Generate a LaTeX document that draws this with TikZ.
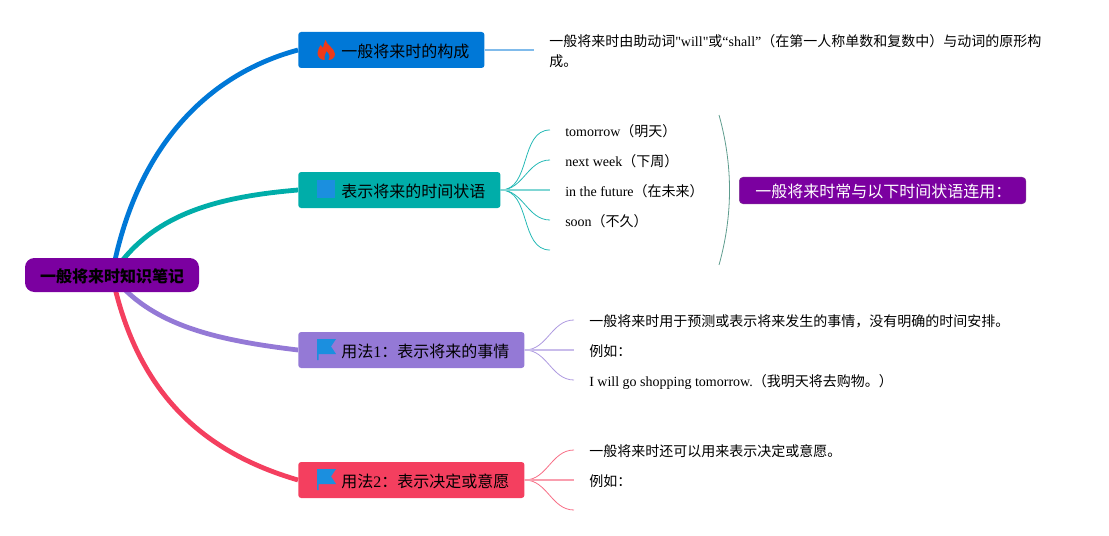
\documentclass[tikz,border=0pt]{standalone}
\usepackage{fontspec}
\setmainfont{Liberation Serif}
\newfontfamily\cjk{Noto Sans CJK SC}
\newfontfamily\plainrm{Liberation Serif}
\newcommand{\zh}[1]{{\cjk #1}}
\definecolor{rootpurple}{HTML}{7B00A0}
\definecolor{blueB}{HTML}{0078D7}
\definecolor{tealB}{HTML}{00ADA9}
\definecolor{violetB}{HTML}{9479D6}
\definecolor{redB}{HTML}{F43F5F}
\definecolor{iconblue}{HTML}{1B8FDF}
\definecolor{flamered}{HTML}{EE3A1A}
\definecolor{bracketgreen}{HTML}{5E9C8E}
\pgfdeclarelayer{back}
\pgfsetlayers{back,main}
\tikzset{
  branchbox/.style={fill=#1,rounded corners=2.2pt,anchor=west,minimum height=27pt,inner ysep=0pt,inner xsep=11.4pt,text height=12pt,text depth=1.2pt,font=\fontsize{12}{14}\selectfont},
  leaftext/.style={anchor=west,inner ysep=0pt,inner xsep=11.25pt,font=\fontsize{10.5}{15}\selectfont,align=left},
  leafline/.style={leaftext,text height=10.5pt,text depth=1pt},
  mainline/.style={line width=3.6pt,#1},
  twig/.style={line width=.6pt,#1},
  flagicon/.pic={\fill[iconblue] (0,0) -- (0,21) -- (1.5,21) -- (1.5,15) -- (19,15) -- (14,7.5) -- (19,0) -- cycle;},
  flameicon/.pic={\fill[flamered,even odd rule] (8,0) .. controls (9,5) and (17,8) .. (17.5,14) .. controls (17.5,18) and (14,20) .. (11,20) .. controls (13,17) and (12,14) .. (9,11) .. controls (8,14) and (6,17) .. (7,20) .. controls (3,20) and (0,17) .. (0,13) .. controls (0,10) and (2,8) .. (3,5) .. controls (4,6) and (5,7) .. (5.5,8) .. controls (6,5) and (7,2) .. (8,0) -- cycle;},
}
\begin{document}
\begin{tikzpicture}[x=.75pt,y=-.75pt]
\useasboundingbox (0,0) rectangle (1109,535);
\node[fill=rootpurple,rounded corners=7pt,minimum width=130.5pt,minimum height=25.5pt,inner sep=0pt,text depth=0pt,font=\fontsize{12}{14}\selectfont] (root) at (112,275) {\raisebox{-.75pt}{\zh{\bfseries 一般将来时知识笔记}}};
% branches
\node[branchbox=blueB] (constr) at (298,50) {\hspace*{20.85pt}\zh{一般将来时的构成}};
\node[branchbox=tealB] (adverb) at (298,190) {\hspace*{20.85pt}\zh{表示将来的时间状语}};
\node[branchbox=violetB] (usageA) at (298,350) {\hspace*{20.85pt}\zh{用法}1\zh{：表示将来的事情}};
\node[branchbox=redB] (usageB) at (298,480) {\hspace*{20.85pt}\zh{用法}2\zh{：表示决定或意愿}};
\pic at (317.5,40) {flameicon};
\fill[iconblue] (317,180) rectangle (335,198);
\pic at (317,339) {flagicon};
\pic at (317,469) {flagicon};
% leaves
\node[leaftext,yshift=-.75pt] (constrA) at (534,50) {\zh{一般将来时由助动词}{\plainrm "will"}\zh{或}“shall”\zh{（在第一人称单数和复数中）与动词的原形构}\\\zh{成。}};
\node[leafline] (advA) at (550,130) {tomorrow\zh{（明天）}};
\node[leafline] (advB) at (550,160) {next week\zh{（下周）}};
\node[leafline] (advC) at (550,190) {in the future\zh{（在未来）}};
\node[leafline] (advD) at (550,220) {soon\zh{（不久）}};
\coordinate (advE) at (550,250);
\node[leafline] (useA) at (574,320) {\zh{一般将来时用于预测或表示将来发生的事情，没有明确的时间安排。}};
\node[leafline] (useB) at (574,350) {\zh{例如：}};
\node[leafline] (useC) at (574,380) {I will go shopping tomorrow.\zh{（我明天将去购物。）}};
\node[leafline] (useD) at (574,450) {\zh{一般将来时还可以用来表示决定或意愿。}};
\node[leafline] (useE) at (574,480) {\zh{例如：}};
\coordinate (useF) at (574,510);
% summary
\coordinate (bracketA) at (719,115);
\coordinate (bracketB) at (719,265);
\node[fill=rootpurple,draw=rootpurple!60!gray,rounded corners=3pt,anchor=west,minimum height=20pt,inner ysep=0pt,inner xsep=11pt,text height=12pt,text depth=1.2pt,text=white,font=\fontsize{12}{14}\selectfont] (summary) at (739,190.5) {\hspace*{1pt}\zh{一般将来时常与以下时间状语连用：}};
\begin{pgfonlayer}{back}
\draw[mainline=blueB] (root.center) .. controls (135,150) and (205,75) .. (constr.west);
\draw[mainline=tealB] (root.center) .. controls (150,215) and (215,197) .. (adverb.west);
\draw[mainline=violetB] (root.center) .. controls (150,325) and (215,340) .. (usageA.west);
\draw[mainline=redB] (root.center) .. controls (135,385) and (195,450) .. (usageB.west);
\draw[line width=1.5pt,blueB!50] (constr.east) -- (constr.east -| constrA.west);
\foreach \leaf in {advA.west,advB.west,advD.west,advE}
  \draw[twig=tealB!85] (adverb.east) to[out=0,in=180] (\leaf);
\draw[line width=1.1pt,tealB!50] (adverb.east) -- (advC.west);
\foreach \leaf in {useA.west,useC.west}
  \draw[twig=violetB!75] (usageA.east) to[out=0,in=180] (\leaf);
\draw[line width=1.1pt,violetB!50] (usageA.east) -- (useB.west);
\foreach \leaf in {useD.west,useF}
  \draw[twig=redB!75] (usageB.east) to[out=0,in=180] (\leaf);
\draw[line width=1.1pt,redB!50] (usageB.east) -- (useE.west);
\draw[twig=bracketgreen] (bracketA) .. controls (733,165) and (733,215) .. (bracketB);
\end{pgfonlayer}
\end{tikzpicture}
\end{document}
